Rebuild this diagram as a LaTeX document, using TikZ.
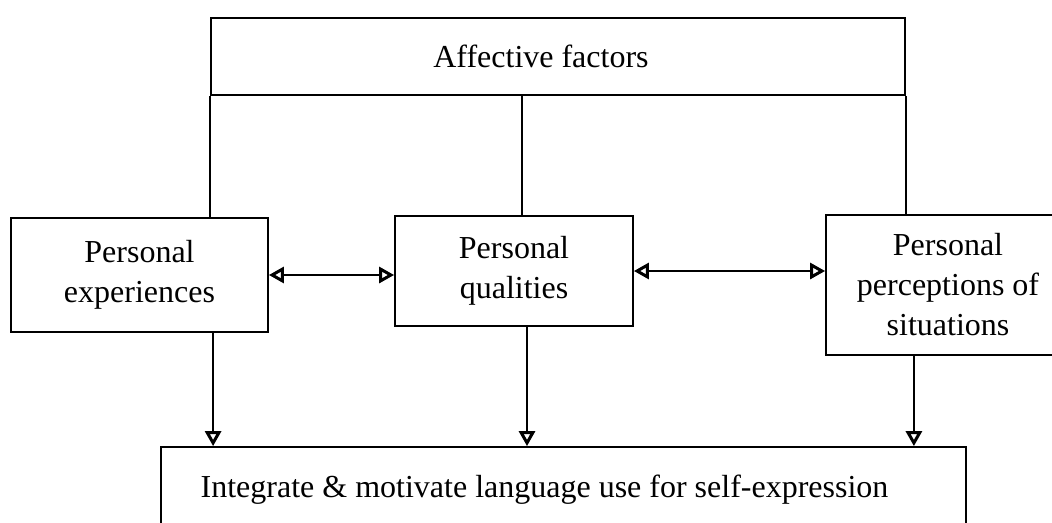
\documentclass[tikz,border=0pt]{standalone}
\usepackage{fontspec}
\setmainfont{Liberation Serif}
\usetikzlibrary{arrows.meta}

\begin{document}
\begin{tikzpicture}[x=1pt,y=-1pt]
				\tikzstyle{box}=[rectangle,draw,line width=1.8pt,align=center,inner sep=0pt,font=\fontsize{32}{40}\selectfont]
				\tikzstyle{link}=[line width=1.8pt]
				\tikzstyle{tip}=[line width=1.8pt,-{Triangle[open,length=15pt,width=16pt,line width=3pt]}]
				\tikzstyle{both}=[line width=1.8pt,{Triangle[open,length=15pt,width=16pt,line width=3pt]}-{Triangle[open,length=15pt,width=16pt,line width=3pt]}]
				\useasboundingbox (0,0) rectangle (1052,522);
				
				\node[box,minimum width=694pt,minimum height=77pt] (affective) at (558,56.5) {Affective factors\hspace*{34pt}};
				\node[box,minimum width=257pt,minimum height=114pt] (experiences) at (139.5,275) {Personal\\experiences};
				\node[box,minimum width=238pt,minimum height=110pt] (qualities) at (514,271) {Personal\\qualities};
				\node[box,minimum width=244pt,minimum height=140pt] (perceptions) at (948,285) {Personal\\perceptions of\\situations};
				\node[box,minimum width=805pt,minimum height=86pt] (integrate) at (563.5,490) {Integrate \& motivate language use for self-expression\hspace*{38pt}};
				
				\draw[link] (affective.south west) -- (affective.south west |- experiences.north);
				\draw[link] (affective.south east) -- (affective.south east |- perceptions.north);
				\draw[link] ([xshift=8pt]qualities.north) -- ([xshift=8pt]qualities.north |- affective.south);
				
				\draw[both] (experiences.east) -- (experiences.east -| qualities.west);
				\draw[both] (qualities.east) -- (qualities.east -| perceptions.west);
				
				\draw[tip] ([xshift=3pt]experiences.south -| affective.south west) -- ([xshift=3pt]affective.south west |- integrate.north);
				\draw[tip] ([xshift=13pt]qualities.south) -- ([xshift=13pt]qualities.south |- integrate.north);
				\draw[tip] ([xshift=8pt]perceptions.south -| affective.south east) -- ([xshift=8pt]affective.south east |- integrate.north);
				
				;\end{tikzpicture}
\end{document}
